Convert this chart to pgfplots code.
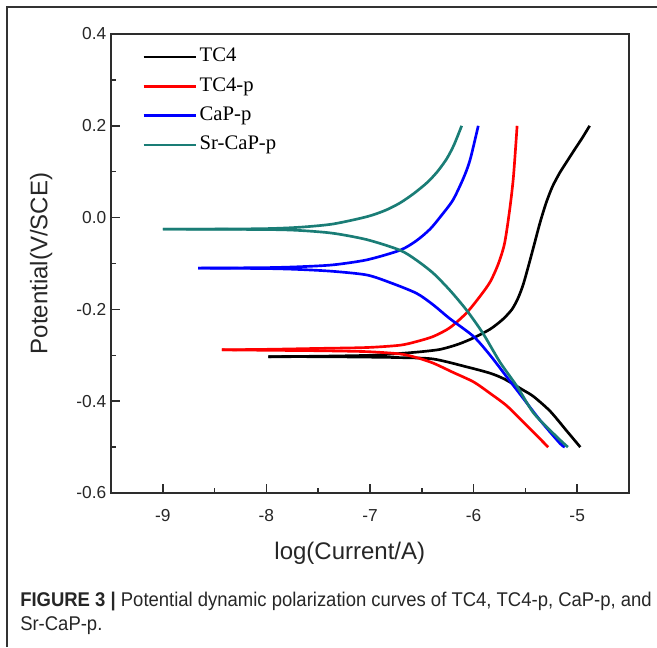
\documentclass[border=0pt]{standalone}
\usepackage{fontspec}
\setmainfont{Liberation Sans}
\newfontfamily\timesfont{Liberation Serif}
\newfontfamily\capfont[FakeStretch=0.93]{Liberation Sans}
\usepackage{pgfplots}
\pgfplotsset{compat=1.18}
\definecolor{srcap}{RGB}{26,125,118}
\definecolor{axgray}{RGB}{45,45,45}
\begin{document}
\begin{tikzpicture}
% 1 px of the reference = 0.75pt
\path[use as bounding box] (0pt,0pt) rectangle (492.75pt,-485.25pt);
\draw[line width=1.1pt, black!80] (5.25pt,-485.25pt) -- (5.25pt,-5.25pt) -- (492.75pt,-5.25pt);
\begin{axis}[
    at={(83.25pt,-25.5pt)}, anchor=north west,
    width=388.5pt, height=344.25pt, scale only axis,
    xmin=-9.5, xmax=-4.5, ymin=-0.6, ymax=0.4,
    xtick={-9,-8,-7,-6,-5},
    ytick={-0.6,-0.4,-0.2,0,0.2,0.4},
    minor x tick num=1, minor y tick num=1,
    xtick pos=bottom, ytick pos=left, tick align=inside,
    major tick length=7pt, minor tick length=4pt,
    axis line style={line width=1.1pt, axgray},
    every tick/.style={line width=1.1pt, axgray},
    /pgf/number format/assume math mode=true,
    yticklabel style={/pgf/number format/fixed, /pgf/number format/fixed zerofill, /pgf/number format/precision=1},
    ticklabel style={font=\fontsize{13}{13}\selectfont, color=black!85},
    xticklabel style={yshift=-9pt},
    xlabel={log(Current/A)}, ylabel={Potential(V/SCE)},
    every axis x label/.style={at={(axis description cs:0.461,-0.131)}, anchor=center,
        font=\fontsize{18}{18}\selectfont, color=black!85},
    every axis y label/.style={at={(axis description cs:-0.135,0.5)}, anchor=center, rotate=90,
        font=\fontsize{18}{18}\selectfont, color=black!85},
    legend cell align=left,
    legend style={draw=none, fill=none, inner sep=0pt,
        at={(axis description cs:0.06,0.972)}, anchor=north west,
        font=\timesfont\fontsize{15.5}{15.5}\selectfont,
        nodes={inner ysep=0pt, inner xsep=2pt, text height=11pt, text depth=4pt},
        row sep=7pt},
    legend image code/.code={\draw[#1] (0pt,0pt) -- (39pt,0pt);},
    every axis plot/.append style={line width=2pt, smooth, tension=0.45},
]
% TC4
\addplot[black] coordinates {
(-7.98,-0.303) (-7.5,-0.302) (-7.0,-0.300) (-6.71,-0.296) (-6.5,-0.292)
(-6.32,-0.287) (-6.15,-0.276) (-6.0,-0.262) (-5.84,-0.243) (-5.72,-0.222)
(-5.63,-0.200) (-5.57,-0.175) (-5.52,-0.145) (-5.47,-0.105) (-5.42,-0.063)
(-5.36,-0.012) (-5.30,0.032) (-5.24,0.067) (-5.17,0.097) (-5.10,0.122)
(-5.02,0.150) (-4.95,0.174) (-4.88,0.200)
};
\addlegendentry{TC4}
% TC4-p
\addplot[red] coordinates {
(-8.43,-0.288) (-8.0,-0.287) (-7.5,-0.285) (-7.03,-0.283) (-6.71,-0.278)
(-6.55,-0.270) (-6.39,-0.259) (-6.23,-0.240) (-6.07,-0.208) (-5.94,-0.172)
(-5.84,-0.140) (-5.76,-0.100) (-5.70,-0.055) (-5.65,0.020) (-5.615,0.090) (-5.58,0.200)
};
\addlegendentry{TC4-p}
% CaP-p
\addplot[blue] coordinates {
(-8.66,-0.110) (-8.0,-0.109) (-7.68,-0.107) (-7.36,-0.103) (-7.03,-0.092)
(-6.71,-0.071) (-6.55,-0.050) (-6.42,-0.025) (-6.32,0.002) (-6.2,0.038)
(-6.10,0.085) (-6.035,0.125) (-5.955,0.200)
};
\addlegendentry{CaP-p}
% Sr-CaP-p
\addplot[srcap] coordinates {
(-9.0,-0.025) (-8.5,-0.025) (-8.0,-0.024) (-7.68,-0.021) (-7.36,-0.014)
(-7.03,0.002) (-6.85,0.016) (-6.71,0.032) (-6.58,0.052) (-6.45,0.076)
(-6.35,0.100) (-6.26,0.128) (-6.19,0.158) (-6.115,0.200)
};
\addlegendentry{Sr-CaP-p}
% cathodic branches
\addplot[black, forget plot] coordinates {
(-7.98,-0.303) (-7.5,-0.303) (-7.0,-0.304) (-6.71,-0.305) (-6.39,-0.308)
(-6.07,-0.325) (-5.84,-0.339) (-5.70,-0.352) (-5.52,-0.376) (-5.42,-0.390)
(-5.26,-0.422) (-5.10,-0.465) (-4.97,-0.500)
};
\addplot[red, forget plot] coordinates {
(-8.43,-0.288) (-8.0,-0.289) (-7.5,-0.290) (-7.03,-0.292) (-6.71,-0.297)
(-6.55,-0.305) (-6.39,-0.317) (-6.2,-0.337) (-6.0,-0.358) (-5.84,-0.383)
(-5.68,-0.410) (-5.5,-0.450) (-5.28,-0.500)
};
\addplot[blue, forget plot] coordinates {
(-8.66,-0.110) (-8.0,-0.111) (-7.68,-0.113) (-7.36,-0.117) (-7.03,-0.125)
(-6.8,-0.142) (-6.55,-0.165) (-6.39,-0.190) (-6.23,-0.220) (-6.0,-0.259)
(-5.84,-0.300) (-5.68,-0.347) (-5.52,-0.394) (-5.36,-0.441) (-5.17,-0.491) (-5.12,-0.500)
};
\addplot[srcap, forget plot] coordinates {
(-9.0,-0.025) (-8.0,-0.026) (-7.68,-0.028) (-7.36,-0.034) (-7.03,-0.048)
(-6.71,-0.071) (-6.55,-0.093) (-6.39,-0.121) (-6.23,-0.158) (-6.07,-0.201)
(-5.91,-0.252) (-5.745,-0.315) (-5.58,-0.368) (-5.42,-0.426) (-5.2,-0.477) (-5.09,-0.500)
};
\end{axis}
\node[anchor=west, inner sep=0pt, font=\capfont\fontsize{14.9}{14.9}\selectfont, color=black!85]
  at (15pt,-451pt) {\textbf{FIGURE 3 |} Potential dynamic polarization curves of TC4, TC4-p, CaP-p, and};
\node[anchor=west, inner sep=0pt, font=\capfont\fontsize{14.9}{14.9}\selectfont, color=black!85]
  at (15pt,-469.5pt) {Sr-CaP-p.};
\end{tikzpicture}
\end{document}
